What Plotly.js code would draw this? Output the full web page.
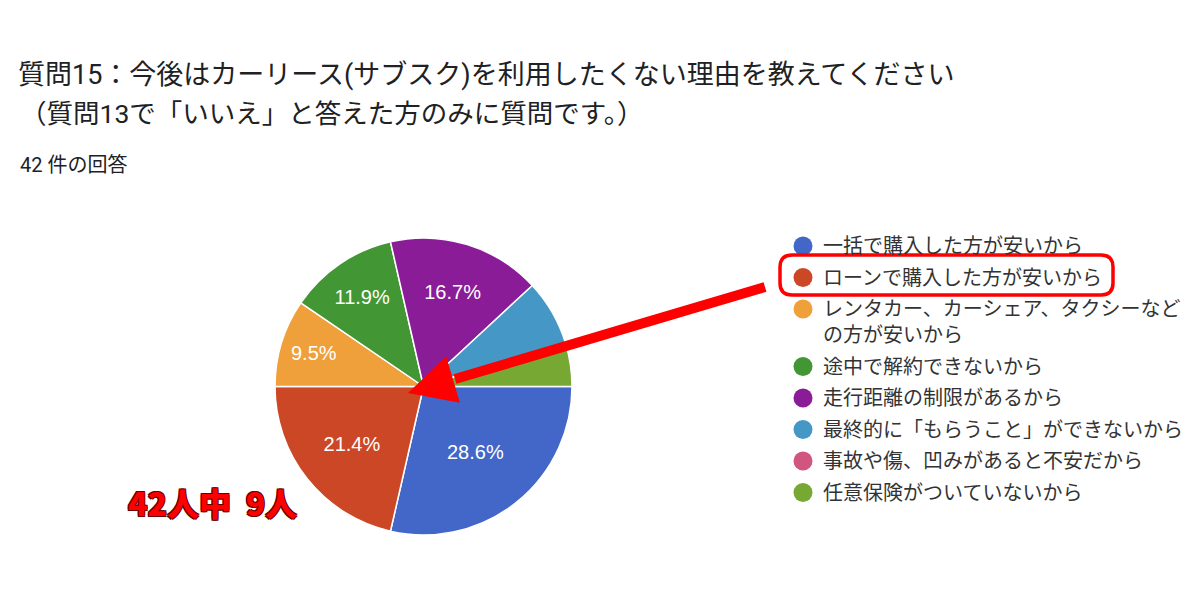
<!DOCTYPE html>
<html>
<head>
<meta charset="utf-8">
<script src="https://cdn.plot.ly/plotly-3.0.1.min.js"></script>
<style>
  html, body { margin: 0; padding: 0; background: #fff; }
  #chart { width: 1200px; height: 600px; }
</style>
</head>
<body>
<div id="chart"></div>
<script>
// survey answers (42 responses)
var labels = [
  "一括で購入した方が安いから",
  "ローンで購入した方が安いから",
  "レンタカー、カーシェア、タクシーなど\nの方が安いから",
  "途中で解約できないから",
  "走行距離の制限があるから",
  "最終的に「もらうこと」ができないから",
  "事故や傷、凹みがあると不安だから",
  "任意保険がついていないから"
];
var counts = [12, 9, 4, 5, 7, 3, 0, 2];
var colors = ["#4267c8", "#cc4726", "#f0a03b", "#439634", "#8b1c97", "#4598c5", "#d1557e", "#78a834"];
var labelPos = ["inside", "inside", "inside", "inside", "inside", "none", "none", "none"];

var titleLine1 = "質問15：今後はカーリース(サブスク)を利用したくない理由を教えてください";
var titleLine2 = "（質問13で「いいえ」と答えた方のみに質問です。）";
var highlight = 1;   // ローン

var W = 1200, H = 600;
var FONT = "Roboto, 'Noto Sans CJK JP', sans-serif";
function px(x) { return x / W; }
function py(y) { return 1 - y / H; }

var total = counts.reduce(function (a, b) { return a + b; }, 0);

var trace = {
  type: "pie",
  labels: labels.map(function (l) { return l.replace("\n", ""); }),
  values: counts,
  sort: false,
  direction: "clockwise",
  rotation: 90,
  marker: { colors: colors, line: { color: "#ffffff", width: 1.5 } },
  texttemplate: "%{percent:.1%}",
  textposition: labelPos,
  insidetextorientation: "horizontal",
  textfont: { family: "'Liberation Sans', Arial, sans-serif", size: 20, color: "#ffffff" },
  showlegend: false,
  hoverinfo: "label+value+percent",
  domain: { x: [px(274), px(573)], y: [py(535), py(238)] }
};

var shapes = [];
var annotations = [];

// second title line and answer count
annotations.push({
  xref: "paper", yref: "paper", x: px(18), y: py(114), xanchor: "left", yanchor: "middle",
  text: titleLine2, showarrow: false, font: { family: FONT, size: 26.5, color: "#202124" }
});
annotations.push({
  xref: "paper", yref: "paper", x: px(18), y: py(165), xanchor: "left", yanchor: "middle",
  text: total + " 件の回答", showarrow: false, font: { family: FONT, size: 20, color: "#202124" }
});

// hand-made legend with round markers
var rowY = 246;
labels.forEach(function (lab, i) {
  var lines = lab.split("\n");
  shapes.push({
    type: "circle", xref: "paper", yref: "paper",
    x0: px(803 - 9.5), x1: px(803 + 9.5), y0: py(rowY - 9.5), y1: py(rowY + 9.5),
    fillcolor: colors[i], line: { width: 0 }
  });
  lines.forEach(function (ln, j) {
    annotations.push({
      xref: "paper", yref: "paper", x: px(821), y: py(rowY + j * 26), xanchor: "left", yanchor: "middle",
      text: ln, showarrow: false, font: { family: FONT, size: 20, color: "#333333" }
    });
  });
  rowY += 31.5 + (lines.length - 1) * 26;
});

// red rounded box round the highlighted legend row
(function () {
  var x0 = 780, x1 = 1113, y0 = 255, y1 = 295, r = 12;
  var p = function (x, y) { return px(x) + "," + py(y); };
  var path = "M" + p(x0 + r, y0) + " L" + p(x1 - r, y0) + " Q" + p(x1, y0) + " " + p(x1, y0 + r) +
    " L" + p(x1, y1 - r) + " Q" + p(x1, y1) + " " + p(x1 - r, y1) +
    " L" + p(x0 + r, y1) + " Q" + p(x0, y1) + " " + p(x0, y1 - r) +
    " L" + p(x0, y0 + r) + " Q" + p(x0, y0) + " " + p(x0 + r, y0) + " Z";
  shapes.push({ type: "path", xref: "paper", yref: "paper", path: path, line: { color: "#ff0000", width: 3.5 } });
})();

// big red arrow pointing into the pie
(function () {
  var tail = [765, 287], tip = [408, 393], headLen = 47, headHalf = 24;
  var dx = tail[0] - tip[0], dy = tail[1] - tip[1];
  var len = Math.sqrt(dx * dx + dy * dy), ux = dx / len, uy = dy / len;
  var bx = tip[0] + ux * headLen, by = tip[1] + uy * headLen;
  shapes.push({
    type: "line", xref: "paper", yref: "paper",
    x0: px(tail[0]), y0: py(tail[1]), x1: px(bx + ux * 2), y1: py(by + uy * 2),
    line: { color: "#ff0000", width: 10 }
  });
  var c1 = [bx - uy * headHalf, by + ux * headHalf], c2 = [bx + uy * headHalf, by - ux * headHalf];
  shapes.push({
    type: "path", xref: "paper", yref: "paper",
    path: "M" + px(tip[0]) + "," + py(tip[1]) + " L" + px(c1[0]) + "," + py(c1[1]) +
      " L" + px(c2[0]) + "," + py(c2[1]) + " Z",
    fillcolor: "#ff0000", line: { width: 0 }
  });
})();

// "42人中 9人"
annotations.push({
  xref: "paper", yref: "paper", x: px(212), y: py(502), xanchor: "center", yanchor: "middle",
  text: total + "人中\u00a0\u00a0" + counts[highlight] + "人", showarrow: false,
  font: {
    family: "'Noto Sans CJK JP', sans-serif", size: 32, color: "#ff0000", weight: 900,
    shadow: "-1px -1px 0 #6a0000, 1px -1px 0 #6a0000, -1px 1px 0 #6a0000, 1px 1px 0 #6a0000"
  }
});

var layout = {
  width: W, height: H,
  margin: { l: 0, r: 0, t: 0, b: 0 },
  paper_bgcolor: "#ffffff",
  title: {
    text: titleLine1, x: px(18), xanchor: "left", y: py(75), yanchor: "middle",
    font: { family: FONT, size: 27, color: "#202124" }
  },
  shapes: shapes,
  annotations: annotations
};

Plotly.newPlot("chart", [trace], layout, { displayModeBar: false, staticPlot: true });
</script>
</body>
</html>
